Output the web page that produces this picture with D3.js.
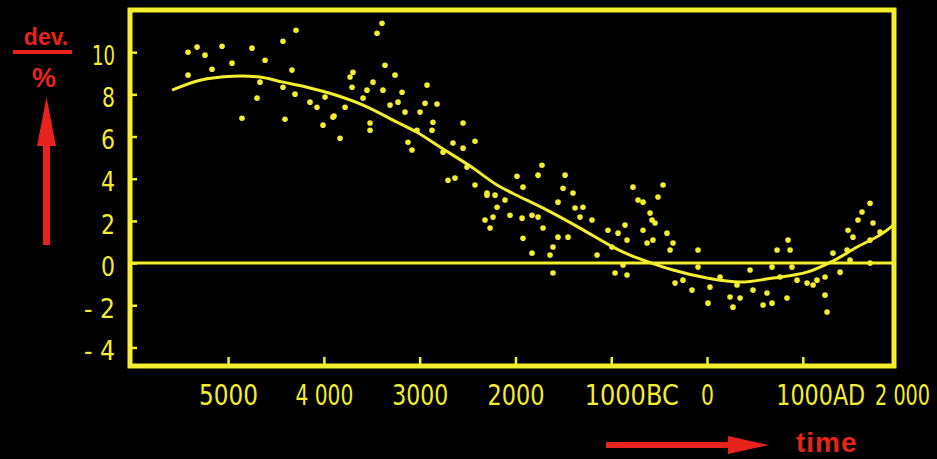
<!DOCTYPE html>
<html>
<head>
<meta charset="utf-8">
<script src="https://cdn.jsdelivr.net/npm/d3@7"></script>
<style>
  html, body { margin: 0; padding: 0; background: #000; }
  svg { display: block; }
</style>
</head>
<body>
<svg id="chart" width="937" height="459"></svg>
<script>
// Deviation (%) of the record against calendar time (negative years = BC)
const obsYear = [
  -5418,-5324,-5241,-5418,-5063,-5168,-4959,-4750,-4614,-4427,-4291,-4333,-4698,-4855,-4406,-4301,
  -4145,-4072,-3988,-3905,-4009,-4667,-4427,
  -3393,-3445,-3696,-3727,-3362,-3257,-3706,-3487,-3550,-3383,-3184,-2923,-3779,-3591,-3309,-3226,
  -3153,-2996,-2944,-2819,-3894,-3518,-3518,-3831,-2861,-2871,-3028,-2547,-2422,-2547,-3122,-3080,
  -2652,-2756,-2704,-2631,-2506,-2422,-2297,-2213,
  -1723,-1764,-1984,-1482,-1921,-1503,-1399,-1556,-2297,-2109,-2192,-2234,-2318,-2057,-1931,-1827,
  -1764,-1378,-1295,-1326,-1201,-2265,-1712,-1556,-1451,-1921,-1034,-929,-1608,-1827,-1639,-1148,
  -992,-835,-856,-773,-720,-595,-574,-668,-564,-1608,-960,-835,-877,
  -459,-512,-668,-543,-418,-355,-386,-626,-94,846,731,867,-94,-251,-334,-157,31,10,240,345,136,313,
  449,480,626,679,887,762,940,1044,1148,1232,835,679,585,271,1232,1253,1107,1315,1472,1576,1702,
  1618,1733,1806,1702,1524,1462,1702,1493,1389
];
const obsDev = [
  10.0,10.24,9.86,8.91,10.28,9.19,9.48,10.19,9.62,10.52,11.04,9.15,7.82,6.87,6.82,8.01,
  7.63,7.39,7.87,6.92,6.54,8.58,8.34,
  11.37,10.9,9.05,8.82,9.38,8.91,8.34,8.58,8.2,8.2,8.1,8.44,7.39,7.82,7.49,7.63,
  7.16,7.16,7.58,7.54,6.97,6.64,6.3,5.92,6.68,6.3,6.3,6.64,5.78,5.45,5.73,5.36,
  5.69,5.26,3.93,4.03,4.55,3.7,3.22,3.22,
  4.64,4.17,4.12,4.17,3.6,3.55,3.32,2.89,3.32,2.99,2.65,2.18,2.04,2.27,2.13,2.27,
  2.18,2.61,2.65,2.18,2.04,1.66,1.66,1.23,1.23,1.18,1.56,1.42,0.76,0.47,0.38,0.38,
  0.76,1.09,1.8,3.6,2.99,2.37,2.04,1.56,1.09,-0.47,-0.47,-0.57,-0.09,
  3.7,3.13,2.89,1.9,1.42,0.95,0.62,0.95,0.62,1.09,0.62,0.62,-0.19,-0.81,-0.95,-1.28,-1.14,-1.9,-1.61,-1.66,-0.66,-1.04,
  -0.33,-1.28,-1.42,-0.19,-0.19,-0.66,-0.81,-0.95,-0.81,-0.66,-1.66,-1.9,-1.99,-2.09,-1.52,-2.32,-1.04,0.47,1.56,2.04,2.84,
  2.42,1.9,1.47,1.09,1.23,0.62,0,0.14,-0.43
];

// Fitted trend
const trendYear = [-5585,-5293,-4949,-4667,-4427,-4176,-3936,-3591,-3236,-3028,-2787,-2474,-2192,-2025,-1670,-1326,-981,-804,-700,-355,0,345,689,1044,1315,1566,1806,1952];
const trendDev  = [8.2,8.67,8.86,8.82,8.58,8.34,8.05,7.49,6.68,6.2,5.5,4.6,3.7,3.3,2.51,1.66,0.76,0.38,0.2,-0.33,-0.71,-0.9,-0.71,-0.43,0.1,0.76,1.33,1.82];

const yearTicks  = [-5000,-4000,-3000,-2000,-1000,0,1000,2000];
const yearLabels = ["5000","4 000","3000","2000","1000BC","0","1000AD","2 000"];
const devTicks   = [10,8,6,4,2,0,-2,-4];
const devLabels  = ["10","8","6","4","2","0","- 2","- 4"];

const YELLOW = "#f3ee2e";
const RED = "#e8231d";
const FONT = "'DejaVu Sans', 'Liberation Sans', sans-serif";

// Condensed lettering: target widths (px) and anchor shifts of the tick labels
const yearLabelWidth = [59, 58, 56, 57, 94, 13, 89, 55];
const yearLabelShift = [0, 0, 0, 0, -27, 0, -27, -24];
const devLabelWidth  = [23, 13, 14, 14, 14, 14, 31, 31];

// Squeeze a label horizontally to the given width, keeping its anchor at offsetX
function condense(sel, widths, offsetX) {
  sel.each(function (d, i) {
    const natural = this.getComputedTextLength();
    const sx = natural > 0 ? widths[i] / natural : 1;
    const dx = typeof offsetX === "function" ? offsetX(d, i) : offsetX;
    d3.select(this)
      .attr("x", 0).attr("dx", null)
      .attr("transform", `translate(${dx},0) scale(${sx},1)`);
  });
}

const svg = d3.select("#chart");
svg.append("rect").attr("width", 937).attr("height", 459).attr("fill", "#000");

const frame = { left: 130, right: 894, top: 10, bottom: 366 };
const x = d3.scaleLinear().domain([-6024, 1952]).range([frame.left, frame.right]);
const y = d3.scaleLinear().domain([-4.88, 12.0]).range([frame.bottom, frame.top]);

// Axes with inward ticks
const xAxis = d3.axisBottom(x)
  .tickValues(yearTicks)
  .tickFormat((d, i) => yearLabels[i])
  .tickSizeInner(-9).tickSizeOuter(0).tickPadding(18);
const gx = svg.append("g").attr("transform", `translate(0,${frame.bottom})`).call(xAxis);
gx.select(".domain").remove();
gx.selectAll(".tick line").attr("stroke", YELLOW).attr("stroke-width", 2.5);
const xText = gx.selectAll(".tick text")
  .attr("fill", YELLOW)
  .style("font-family", FONT)
  .style("font-size", "29px")
  .attr("text-anchor", (d, i) => yearLabelShift[i] ? "start" : "middle");
condense(xText, yearLabelWidth, (d, i) => yearLabelShift[i]);
gx.selectAll(".tick").filter(d => d === 2000).select("line").remove();

const yAxis = d3.axisLeft(y)
  .tickValues(devTicks)
  .tickFormat((d, i) => devLabels[i])
  .tickSizeInner(-7).tickSizeOuter(0).tickPadding(15);
const gy = svg.append("g").attr("transform", `translate(${frame.left},0)`).call(yAxis);
gy.select(".domain").remove();
gy.selectAll(".tick line").attr("stroke", YELLOW).attr("stroke-width", 2.5);
const yText = gy.selectAll(".tick text")
  .attr("fill", YELLOW)
  .attr("dy", "0.45em")
  .style("font-family", FONT)
  .style("font-size", "27px");
condense(yText, devLabelWidth, -15);

// Zero line
svg.append("line")
  .attr("x1", frame.left).attr("x2", frame.right)
  .attr("y1", y(0)).attr("y2", y(0))
  .attr("stroke", YELLOW).attr("stroke-width", 3);

// Observations
svg.append("g").selectAll("circle")
  .data(obsYear.map((yr, i) => [yr, obsDev[i]]))
  .join("circle")
  .attr("cx", d => x(d[0]))
  .attr("cy", d => y(d[1]))
  .attr("r", 2.8)
  .attr("fill", YELLOW);

// Trend curve
const line = d3.line()
  .x(d => x(d[0]))
  .y(d => y(d[1]))
  .curve(d3.curveCatmullRom.alpha(0.5));
svg.append("path")
  .datum(trendYear.map((yr, i) => [yr, trendDev[i]]))
  .attr("d", line)
  .attr("fill", "none")
  .attr("stroke", YELLOW)
  .attr("stroke-width", 3);

// Frame
svg.append("rect")
  .attr("x", frame.left).attr("y", frame.top)
  .attr("width", frame.right - frame.left).attr("height", frame.bottom - frame.top)
  .attr("fill", "none")
  .attr("stroke", YELLOW).attr("stroke-width", 5);

// Unit label "dev. / %" with upward arrow
const red = svg.append("g").attr("fill", RED);
red.append("text").attr("x", 46).attr("y", 45).attr("text-anchor", "middle")
  .style("font-family", "'Liberation Sans', Arial, sans-serif")
  .style("font-size", "23px").style("font-weight", "bold").text("dev.");
red.append("rect").attr("x", 13).attr("y", 50).attr("width", 59).attr("height", 4);
red.append("text").attr("x", 44).attr("y", 87).attr("text-anchor", "middle")
  .style("font-family", "'Liberation Sans', Arial, sans-serif")
  .style("font-size", "27px").style("font-weight", "bold").text("%");
red.append("rect").attr("x", 43).attr("y", 130).attr("width", 7).attr("height", 115);
red.append("path").attr("d", "M46.5,97 L56,146 L37,146 Z");

// Time arrow
red.append("rect").attr("x", 606).attr("y", 442).attr("width", 130).attr("height", 6);
red.append("path").attr("d", "M769,445 L728,436 L728,454 Z");
red.append("text").attr("x", 796).attr("y", 452)
  .style("font-family", "'Liberation Sans', Arial, sans-serif")
  .style("font-size", "28px").style("font-weight", "bold")
  .style("letter-spacing", "1px").text("time");
</script>
</body>
</html>
